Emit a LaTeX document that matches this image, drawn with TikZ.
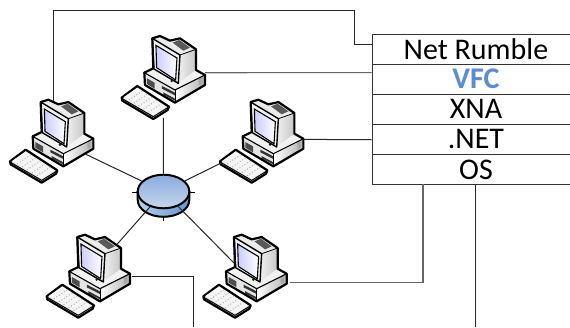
\documentclass[tikz,border=0pt]{standalone}
\usepackage{fontspec}
\setmainfont{Carlito}
\usetikzlibrary{calc,shapes.geometric}
\definecolor{vfcblue}{HTML}{5B8DD6}
\definecolor{hubtop}{HTML}{8AABDC}
\definecolor{hubbot}{HTML}{C6D6EE}
\definecolor{hubside}{HTML}{5F97D2}
\tikzset{
  wire/.style={line width=1pt,draw=black!85},
  graywire/.style={line width=1.2pt,draw=black!60},
  cell/.style={draw=black!80,line width=1pt,minimum width=200pt,minimum height=30.1pt,
    inner sep=0pt,font=\fontsize{30}{30}\selectfont,text depth=0pt,anchor=north west},
  cellbold/.style={cell,text=vfcblue,font=\fontsize{30}{30}\selectfont\bfseries},
  outl/.style={line width=2.2pt,draw=black,line join=round},
  hubface/.style={ellipse,minimum width=51.6pt,minimum height=33.6pt,inner sep=0pt,
    top color=hubtop,bottom color=hubbot,draw=black,line width=2pt},
  pics/computer/.style={code={
    \begin{scope}[x=.3333pt,y=-.3333pt,shift={(-457,-114)}]
      \coordinate (-top) at (494,112);
      \coordinate (-port) at (615,218);
      \coordinate (-keyb) at (490,354);
      \coordinate (-base) at (593,272);
      \coordinate (-kbl) at (370,297);
      \coordinate (-mon)  at (577,136);
      \coordinate (-front) at (457,193);
      \fill[white] (457,115)--(480,108)--(510,122)--(540,115)--(588,148)--(588,210)--(615,225)--(615,255)--(525,308)--(435,255)--(433,218)--(460,205)--cycle;
      \fill[black!8] (457,115)--(480,108)--(510,122)--(540,115)--(588,148)--(540,165)--cycle;
      \shade[left color=black!6,right color=black!22] (540,165)--(588,148)--(588,212)--(535,250)--cycle;
      \fill[black!65] (518,128)--(538,120)--(570,143)--(550,152)--cycle;
      \fill[black!5] (433,218)--(460,205)--(535,250)--(588,210)--(615,225)--(525,270)--cycle;
      \shade[left color=white,right color=black!30] (525,270)--(615,225)--(615,255)--(525,308)--cycle;
      \fill[black!10] (433,218)--(525,270)--(525,308)--(435,255)--cycle;
      \fill[black!70] (441,235)--(464,248)--(464,266)--(441,252)--cycle;
      \fill[black!80] (486,258)--(525,278)--(525,286)--(486,266)--cycle;
      \fill[black!80] (490,277)--(525,296)--(525,302)--(490,284)--cycle;
      \fill[black!35] (597,233)--(607,228)--(607,251)--(597,256)--cycle;
      \fill[black!5] (457,115)--(540,165)--(535,250)--(462,207)--cycle;
      \draw[line width=1.4pt,line join=round] (457,115)--(540,165)--(535,250)--(462,207)--cycle;
      \shade[left color=blue!20!white,right color=white,draw=black,line width=1.1pt]
        (468,136)--(531,174)--(527,240)--(470,203)--cycle;
      \fill[black!80!green] (515,243) circle (4);
      \draw[line width=.8pt] (540,165)--(588,148);
      \draw[line width=1.1pt] (433,218)--(525,270)--(615,225);
      \draw[line width=.8pt] (525,270)--(525,308);
      \draw[outl] (457,115)--(480,108)--(510,122)--(540,115)--(588,148)--(588,210)--(615,225)--(615,255)--(525,308)--(435,255)--(433,218)--(460,205)--cycle;
      \fill[black!8,draw=black,line width=2.2pt,line join=round] (365,293)--(412,258)--(507,320)--(503,330)--(460,357)--(367,302)--cycle;
      \fill[black!4] (372,291)--(412,264)--(498,320)--(460,345)--cycle;
      \foreach \t in {0.17,0.34,0.5,0.67,0.84}{
        \draw[black!30,line width=1pt,dotted] ($(372,291)!\t!(460,345)$) -- ($(412,264)!\t!(498,320)$);
      }
      \draw[line width=1pt] (367,296)--(460,350)--(505,322);
    \end{scope}
  }},
}
\begin{document}
\begin{tikzpicture}[x=1pt,y=-1pt]
  \clip (0,0) rectangle (570,327);
  \fill[white] (0,0) rectangle (570,327);

  % stack
  \node[cell] (net) at (371.5,33.9) {\hspace*{8pt}\raisebox{1pt}{Net Rumble}};
  \node[cellbold] (vfc) at (371.5,64) {\hspace*{8pt}\raisebox{1pt}{VFC}};
  \node[cell] (xna) at (371.5,94.1) {\hspace*{8pt}\raisebox{1pt}{XNA}};
  \node[cell] (dotnet) at (371.5,124.2) {\hspace*{8pt}\raisebox{1pt}{.NET}};
  \node[cell] (os) at (371.5,154.3) {\hspace*{8pt}\raisebox{1pt}{OS}};

  % free ends and bends
  \coordinate (exitA) at (193.3,327);
  \coordinate (exitB) at (475.3,327);
  \coordinate (netport) at (371.5,44);
  \coordinate (vfcport) at (371.5,72.6);
  \coordinate (osA) at (423,184.4);
  \coordinate (osB) at (475.3,184.4);
  \coordinate (cornerA) at (354,10.5);

  % hub side and stubs
  \draw[line width=1pt] (132,192) -- (195,192);
  \draw[line width=1pt] (163.5,216) -- (163.5,221);
  \shade[left color=white!55!hubside,right color=hubside,draw=black,line width=2pt]
    (137.7,191.5) -- (137.7,200) arc[start angle=180,end angle=0,x radius=25.8,y radius=16.8] -- (189.3,191.5) -- cycle;
  \node[hubface] (hub) at (163.5,191.5) {};

  % computers
  \pic (ctop) at (152.3,38) {computer};
  \pic (cleft) at (40.7,101.7) {computer};
  \pic (cright) at (250.7,101.7) {computer};
  \pic (cbl) at (77.3,236.7) {computer};
  \pic (cbr) at (234,236.7) {computer};

  % connectors to hub
  \draw[wire] (ctop-keyb) -- (hub);
  \draw[wire] (cleft-base) -- (hub);
  \draw[wire] (cright-kbl) -- (hub);
  \draw[wire] (cbl-mon) -- (hub);
  \draw[wire] (cbr-front) -- (hub);

  % stack connectors
  \draw[wire] (cleft-top) |- (cornerA) |- (netport);
  \draw[graywire] (ctop-port) -- (vfcport);
  \draw[wire] ($(cright-port)+(0,3)$) -- (dotnet.west);
  \draw[graywire] ($(cbr-port)+(3.3,10.9)$) -| (osA);
  \draw[wire] ($(cbl-port)+(1.7,5.3)$) -| (exitA);
  \draw[wire] (osB) -- (exitB);
\end{tikzpicture}
\end{document}
